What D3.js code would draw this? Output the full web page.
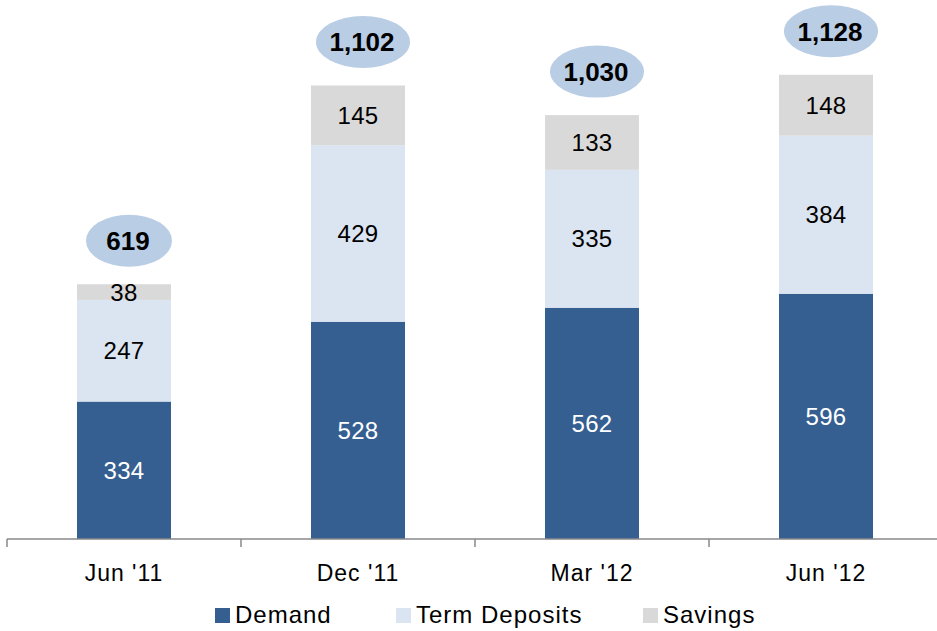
<!DOCTYPE html>
<html><head><meta charset="utf-8">
<script src="https://cdn.jsdelivr.net/npm/d3@7"></script>
<style>body{margin:0;background:#fff}svg{display:block;font-family:"Liberation Sans",Arial,sans-serif}</style>
</head><body><svg id="c" width="937" height="631"></svg>
<script>
const categories = ["Jun '11", "Dec '11", "Mar '12", "Jun '12"];
const demand = [334, 528, 562, 596];
const termDeposits = [247, 429, 335, 384];
const savings = [38, 145, 133, 148];
const totals = [619, 1102, 1030, 1128];
const seriesNames = ["Demand", "Term Deposits", "Savings"];
const colors = ["#355f91", "#dbe5f1", "#d9d9d9"];
const labelColors = ["#ffffff", "#000000", "#000000"];

const svg = d3.select("#c");
const x = d3.scaleBand().domain(categories).range([7, 943]).paddingInner(0).paddingOuter(0);
const y = d3.scaleLinear().domain([0, 1300]).range([539, 4]);
const barW = 94;

const rows = categories.map((c, i) => ({cat: c, Demand: demand[i], "Term Deposits": termDeposits[i], Savings: savings[i]}));
const stack = d3.stack().keys(seriesNames)(rows);

stack.forEach((s, si) => {
  const g = svg.append("g");
  g.selectAll("rect").data(s).enter().append("rect")
    .attr("x", d => x(d.data.cat) + x.bandwidth()/2 - barW/2)
    .attr("width", barW)
    .attr("y", d => y(d[1]))
    .attr("height", d => y(d[0]) - y(d[1]))
    .attr("fill", colors[si]);
  g.selectAll("text").data(s).enter().append("text")
    .attr("x", d => x(d.data.cat) + x.bandwidth()/2)
    .attr("y", d => (y(d[0]) + y(d[1]))/2 + 8.5)
    .attr("text-anchor", "middle")
    .attr("font-size", 24)
    .attr("letter-spacing", 0.3)
    .attr("fill", labelColors[si])
    .text(d => d3.format(",")(d[1]-d[0]));
});

// totals ellipses
const tg = svg.append("g");
categories.forEach((c, i) => {
  const cx = x(c) + x.bandwidth()/2 + 5;
  const cy = y(totals[i]) - 43.5;
  const txt = d3.format(",")(totals[i]);
  tg.append("ellipse").attr("cx", cx).attr("cy", cy)
    .attr("rx", txt.length > 3 ? 47 : 43).attr("ry", 26).attr("fill", "#b9cde5");
  tg.append("text").attr("x", cx - 1).attr("y", cy + 9.5).attr("text-anchor", "middle")
    .attr("font-size", 26).attr("font-weight", "bold").attr("fill", "#000").text(txt);
});

// axis
const ag = svg.append("g").attr("transform", "translate(0,539)");
ag.append("line").attr("x1", 7).attr("x2", 943).attr("y1", 0).attr("y2", 0).attr("stroke", "#888").attr("stroke-width", 1.5);
const bounds = categories.map(c => x(c)).concat([x.range()[1]]);
ag.selectAll("line.t").data(bounds).enter().append("line").attr("class", "t")
  .attr("x1", d => d).attr("x2", d => d).attr("y1", 0).attr("y2", 8)
  .attr("stroke", "#888").attr("stroke-width", 1.5);
ag.selectAll("text.cat").data(categories).enter().append("text").attr("class", "cat")
  .attr("x", d => x(d) + x.bandwidth()/2).attr("y", 42)
  .attr("text-anchor", "middle").attr("font-size", 23).attr("letter-spacing", 1).attr("fill", "#000").text(d => d);

// legend
const legX = [215, 396, 643];
const lg = svg.append("g");
seriesNames.forEach((n, i) => {
  lg.append("rect").attr("x", legX[i]).attr("y", 608).attr("width", 15).attr("height", 15).attr("fill", colors[i]);
  lg.append("text").attr("x", legX[i] + 20).attr("y", 623).attr("font-size", 24).attr("letter-spacing", 1).attr("fill", "#000").text(n);
});
</script></body></html>
